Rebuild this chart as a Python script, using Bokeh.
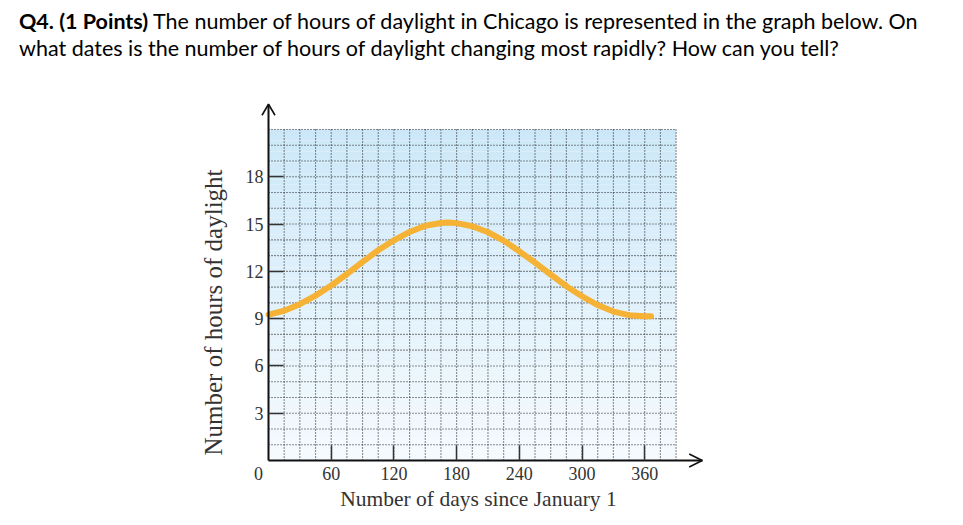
import numpy as np
from bokeh.plotting import figure
from bokeh.models import Range1d, FixedTicker, Div
from bokeh.core.properties import value
from bokeh.layouts import column
from bokeh.embed import file_html
from bokeh.resources import INLINE

# ---- data ----
days = [0, 15, 30, 45, 60, 75, 90, 105, 120, 135, 150, 165, 172, 180, 195, 210, 225,
        240, 255, 270, 285, 300, 315, 330, 345, 360, 366]
hours = [9.26, 9.5, 9.92, 10.46, 11.1, 11.83, 12.6, 13.34, 13.97, 14.5, 14.89, 15.07, 15.1,
         15.06, 14.86, 14.48, 13.95, 13.27, 12.55, 11.8, 11.06, 10.42, 9.86, 9.45, 9.22, 9.15, 9.15]
x_ticks = [60, 120, 180, 240, 300, 360]
y_ticks = [3, 6, 9, 12, 15, 18]
origin_label = "0"
title_bold = "Q4. (1 Points)"
title_rest1 = "The number of hours of daylight in Chicago is represented in the graph below. On"
title_line2 = "what dates is the number of hours of daylight changing most rapidly? How can you tell?"
x_label = "Number of days since January 1"
y_label = "Number of hours of daylight"
X_GRID, Y_GRID = 390, 21          # extent of the shaded grid
X_STEP, Y_STEP = 15, 1            # grid spacing
X_ARROW, Y_ARROW = 415, 22.6      # where the axis arrows end

# ---- layout constants (pixels) ----
W = 947
DIV_H = 95
FIG_H = 420
PX_DAY = 1.0451        # pixels per day
PX_HR = 15.762         # pixels per hour
OX = 268               # origin x in figure pixels
OY = 365               # origin y from figure top
def dx(px): return px / PX_DAY
def dy(px): return px / PX_HR

div = Div(text=(
    '<div style="font-family: Lato, sans-serif; font-size: 21.5px; line-height: 27px; '
    'color: #000; padding: 8px 0 0 19px; white-space: nowrap;">'
    f'<b>{title_bold}</b> {title_rest1}<br>{title_line2}</div>'),
    width=W, height=DIV_H, margin=(0, 0, 0, 0))

p = figure(width=W, height=FIG_H, output_backend="svg", toolbar_location=None,
           x_range=Range1d(-dx(OX), dx(W - OX)), y_range=Range1d(-dy(FIG_H - OY), dy(OY)),
           min_border=0, title=None, margin=(0, 0, 0, 0))
p.outline_line_color = None
p.background_fill_color = "white"
p.border_fill_color = "white"
p.xgrid.visible = False
p.ygrid.visible = False

# gradient background (bands)
nb = 60
edges = np.linspace(0, Y_GRID, nb + 1)
top_c = np.array([0xcc, 0xe8, 0xf8])
bot_c = np.array([0xf5, 0xfa, 0xfe])
cols = []
for i in range(nb):
    t = (i + 0.5) / nb
    c = bot_c + (top_c - bot_c) * t
    cols.append("#%02x%02x%02x" % tuple(int(round(v)) for v in c))
p.quad(left=0, right=X_GRID, bottom=edges[:-1], top=edges[1:], fill_color=cols, line_color=None)

# dotted grid limited to the shaded box
gx = np.arange(X_STEP, X_GRID + 1, X_STEP)
gy = np.arange(Y_STEP, Y_GRID + 1, Y_STEP)
p.segment(x0=gx, y0=0, x1=gx, y1=Y_GRID, line_color="#222222", line_dash="1 2", line_width=1.1)
p.segment(x0=0, y0=gy, x1=X_GRID, y1=gy, line_color="#222222", line_dash="1 2", line_width=1.1)

# curve
p.line(days, hours, line_color="#f5b234", line_width=6, line_cap="round", line_join="round")

# axes crossing at the origin
xa, ya = p.xaxis[0], p.yaxis[0]
xa.fixed_location = 0
ya.fixed_location = 0
xa.bounds = (0, X_ARROW)
ya.bounds = (0, Y_ARROW)
for ax in (xa, ya):
    ax.major_tick_in = 15
    ax.major_tick_out = 0
    ax.minor_tick_line_color = None
    ax.axis_line_color = "#111111"
    ax.axis_line_width = 2
    ax.major_tick_line_color = "#333333"
    ax.major_tick_line_width = 1.5
    ax.major_label_text_font = "Liberation Serif"
    ax.major_label_text_font_size = "18px"
    ax.major_label_text_color = "#333333"
xa.major_label_standoff = 6
ya.major_label_standoff = 5
xa.ticker = FixedTicker(ticks=x_ticks)
ya.ticker = FixedTicker(ticks=y_ticks)

# open arrow heads
p.multi_line(xs=[[-dx(6.5), 0, dx(6.5)], [X_ARROW - dx(13), X_ARROW, X_ARROW - dx(13)]],
             ys=[[Y_ARROW - dy(11), Y_ARROW, Y_ARROW - dy(11)], [dy(6.5), 0, -dy(6.5)]],
             line_color="#111111", line_width=1.6)

# origin label and axis titles
serif = value("Liberation Serif")
p.text(x=[-dx(10)], y=[-dy(13)], text=[origin_label], text_font=serif, text_font_size="18px",
       text_color="#333333", text_align="center", text_baseline="middle")
p.text(x=[dx(210)], y=[-dy(38)], text=[x_label], text_font=serif, text_font_size="21.5px",
       text_color="#333333", text_align="center", text_baseline="middle")
p.text(x=[-dx(55)], y=[dy(148)], text=[y_label], angle=np.pi / 2, text_font=serif,
       text_font_size="25px", text_color="#333333", text_align="center", text_baseline="middle")

layout = column(div, p, spacing=0)
open("out.html", "w").write(file_html(layout, INLINE))
